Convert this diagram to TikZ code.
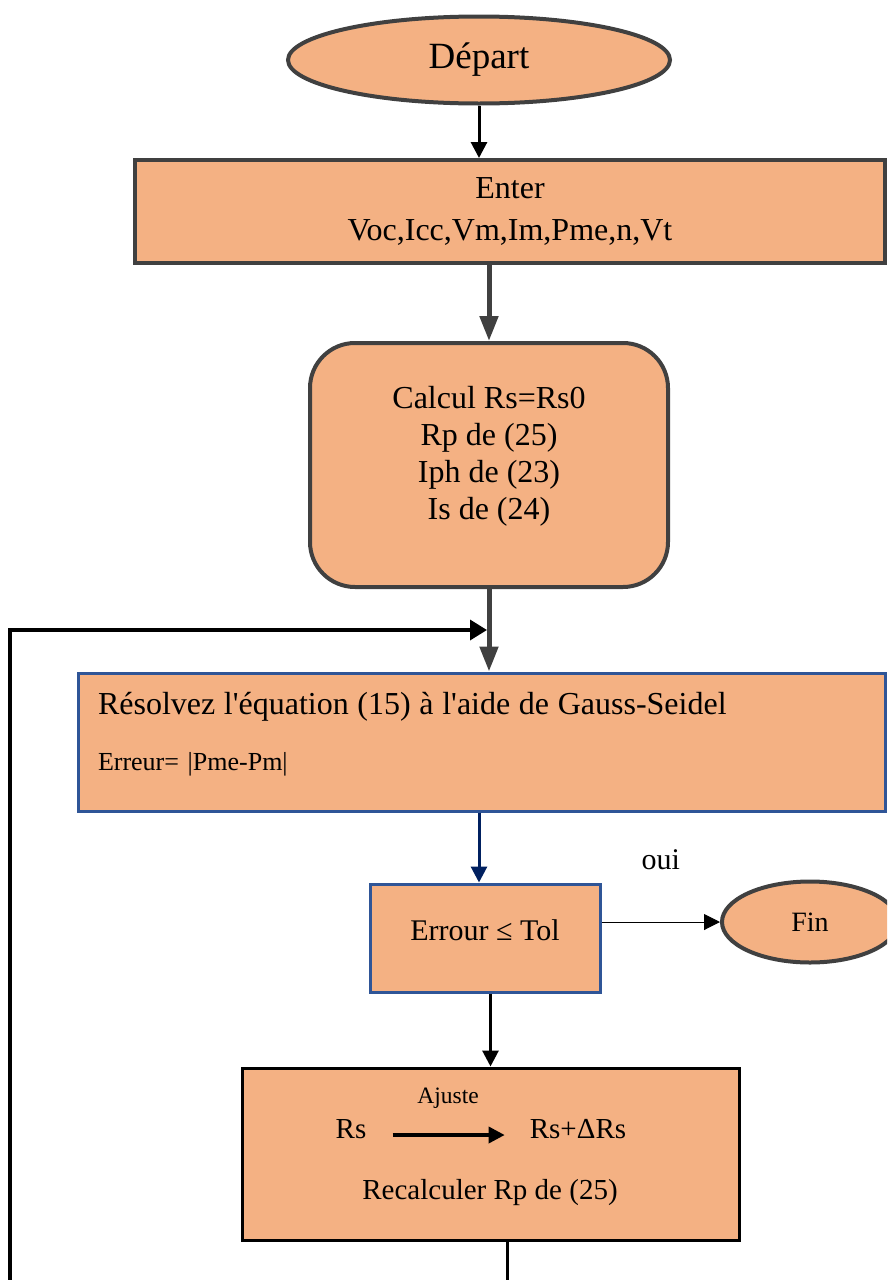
\documentclass[tikz,border=0pt]{standalone}
\usepackage{fontspec}
\setmainfont{Liberation Serif}[Ligatures=TeXOff]
\usetikzlibrary{arrows.meta,shapes.geometric}
\definecolor{boxfill}{HTML}{F4B183}
\definecolor{edgegray}{HTML}{404040}
\definecolor{edgeblue}{HTML}{2F5597}
\definecolor{navy}{HTML}{002060}
\begin{document}
\begin{tikzpicture}[x=1pt,y=-1pt,
  box/.style={draw=edgegray, line width=4pt, fill=boxfill, inner sep=0pt, align=center},
  bluebox/.style={box, draw=edgeblue, line width=3pt},
  oval/.style={box, ellipse},
  txt/.style={inner sep=2pt},
  tip/.style={-{Triangle[length=16pt,width=16pt]}},
  bigtip/.style={-{Triangle[length=25pt,width=18pt]}},
  sidetip/.style={-{Triangle[length=17pt,width=20pt]}}]
\useasboundingbox (0,0) rectangle (887,1280);
\clip (0,0) rectangle (887,1280);

\node[oval, minimum width=382pt, minimum height=87pt, font=\fontsize{37}{40}\selectfont] (depart) at (479,60) {Départ};
\node[box, minimum width=750pt, minimum height=103pt, font=\fontsize{32}{42}\selectfont] (enter) at (510,211.5) {Enter\\Voc,Icc,Vm,Im,Pme,n,Vt};
\node[box, rounded corners=45pt, minimum width=358pt, minimum height=244pt, text depth=24pt, font=\fontsize{32}{37}\selectfont] (calc) at (489,465) {Calcul Rs=Rs0\\Rp de (25)\\Iph de (23)\\Is de (24)};
\node[bluebox, minimum width=807pt, minimum height=138pt, text width=767pt, text depth=77pt, align=left, font=\fontsize{26}{56}\selectfont] (gauss) at (481.5,742) {{\fontsize{32}{56}\selectfont Résolvez l'équation (15) à l'aide de Gauss-Seidel}\\Erreur= |Pme-Pm|};
\node[bluebox, minimum width=230pt, minimum height=108pt, text depth=16pt, font=\fontsize{30}{36}\selectfont] (errour) at (485,938) {Errour ≤ Tol};
\node[oval, minimum width=176pt, minimum height=81pt, font=\fontsize{28}{32}\selectfont] (fin) at (810,922) {Fin};
\node[box, draw=black, line width=3pt, minimum width=497pt, minimum height=172pt] (ajuste) at (490.5,1154) {};
\node[txt, font=\fontsize{29}{34}\selectfont] (rs) at (351,1129) {Rs};
\node[txt, font=\fontsize{29}{34}\selectfont] (rsd) at (578,1129) {Rs+ΔRs};
\node[txt, font=\fontsize{29}{34}\selectfont] (recalc) at (490,1193) {Recalculer Rp de (25)};

\coordinate (join) at (487,630);
\coordinate (back) at (10,1290);
\coordinate (exit) at (507,1290);

\path[draw,line width=3pt,tip] (depart.south) -- (depart.south |- enter.north);
\path[draw,edgegray,line width=5pt,bigtip] (enter.south -| calc.north) -- (calc.north);
\path[draw,edgegray,line width=5pt,bigtip] (calc.south) -- (calc.south |- gauss.north);
\path[draw,line width=3.5pt,sidetip] (back) |- (join);
\path[draw,navy,line width=3pt,tip] ([xshift=-6pt]gauss.south -| errour.north) -- ([xshift=-6pt]errour.north);
\path[draw,line width=1pt,tip] (errour.east |- fin.west) -- node[txt, above=50pt, font=\fontsize{30}{36}\selectfont] {oui} (fin.west);
\path[draw,line width=3pt,tip] (errour.south -| ajuste.north) -- (ajuste.north);
\path[draw,line width=3.5pt,tip,shorten <=24pt,shorten >=23pt] ([yshift=-6pt]rs.east) -- node[txt, above=23pt, font=\fontsize{23.5}{28}\selectfont] {Ajuste} ([yshift=-6pt]rsd.west);
\path[draw,line width=3pt] (ajuste.south -| exit) -- (exit);
\end{tikzpicture}
\end{document}
